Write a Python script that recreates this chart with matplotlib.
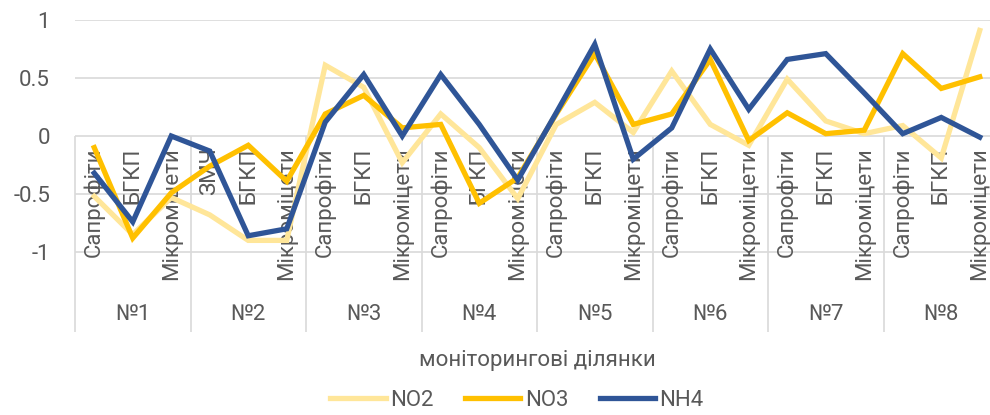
import matplotlib
matplotlib.use('Agg')
import matplotlib.pyplot as plt
import numpy as np

plt.rcParams['font.family'] = ['Roboto', 'DejaVu Sans']

groups = ['№1', '№2', '№3', '№4', '№5', '№6', '№7', '№8']
cats = ['Сапрофіти', 'БГКП', 'Мікроміцети',
        'ЗМЧ', 'БГКП', 'Мікроміцети',
        'Сапрофіти', 'БГКП', 'Мікроміцети',
        'Сапрофіти', 'БГКП', 'Мікроміцети',
        'Сапрофіти', 'БГКП', 'Мікроміцети',
        'Сапрофіти', 'БГКП', 'Мікроміцети',
        'Сапрофіти', 'БГКП', 'Мікроміцети',
        'Сапрофіти', 'БГКП', 'Мікроміцети']

no2 = [-0.52, -0.85, -0.53, -0.68, -0.90, -0.90,
       0.61, 0.42, -0.23, 0.19, -0.10, -0.54,
       0.10, 0.29, 0.03, 0.56, 0.10, -0.08,
       0.49, 0.13, 0.02, 0.09, -0.19, 0.91]
no3 = [-0.10, -0.88, -0.49, -0.26, -0.08, -0.39,
       0.19, 0.35, 0.07, 0.10, -0.58, -0.36,
       0.19, 0.71, 0.10, 0.19, 0.66, -0.04,
       0.20, 0.02, 0.05, 0.71, 0.41, 0.51]
nh4 = [-0.32, -0.74, 0.00, -0.13, -0.86, -0.80,
       0.12, 0.53, 0.00, 0.53, 0.10, -0.38,
       0.20, 0.79, -0.20, 0.07, 0.75, 0.23,
       0.66, 0.71, 0.37, 0.02, 0.16, -0.01]

yticks = [-1, -0.5, 0, 0.5, 1]
ytick_labels = ['-1', '-0.5', '0', '0.5', '1']

txt = '#595959'
grid = '#D9D9D9'

fig = plt.figure(figsize=(9.9, 4.15), dpi=100)
ax = fig.add_axes([75 / 990, 83 / 415, 924 / 990, 312 / 415])

x = np.arange(len(cats))
ax.plot(x, no2, color='#FFE699', lw=3.8, label='NO2', zorder=3, solid_joinstyle='miter')
ax.plot(x, no3, color='#FFC000', lw=3.8, label='NO3', zorder=4, solid_joinstyle='miter')
ax.plot(x, nh4, color='#2F5597', lw=3.8, label='NH4', zorder=5, solid_joinstyle='miter')

ax.set_xlim(-0.5, len(cats) - 0.5)
ax.set_ylim(1 - 312 / 116, 1)
for s in ax.spines.values():
    s.set_visible(False)
ax.set_xticks([])
ax.set_yticks(yticks)
ax.set_yticklabels(ytick_labels)
ax.tick_params(axis='y', length=0, pad=18, labelsize=16, labelcolor=txt)
ax.grid(axis='y', color=grid, lw=1.2, zorder=0)

# category labels (rotated) and group separators
for i, c in enumerate(cats):
    ax.text(i, -0.1, c, rotation=90, ha='center', va='top', fontsize=16,
            color=txt, zorder=2)
bottom = 1 - 312 / 116
ax.vlines(np.arange(0, len(cats) + 1, 3) - 0.5, bottom, 0, color=grid, lw=1.2,
          zorder=1, clip_on=False)
for g, name in enumerate(groups):
    ax.text(g * 3 + 1, -1.54, name, ha='center', va='center', fontsize=16,
            color=txt)

fig.text(537 / 990, 1 - 360 / 415, 'моніторингові ділянки', ha='center',
         va='center', fontsize=16, color=txt)
fig.legend(loc='center', bbox_to_anchor=(517 / 990, 1 - 400 / 415), ncol=3,
           frameon=False, fontsize=16, labelcolor=txt, handlelength=2.5,
           handletextpad=0.2, columnspacing=1.4)

fig.savefig('out.png', dpi=100)
